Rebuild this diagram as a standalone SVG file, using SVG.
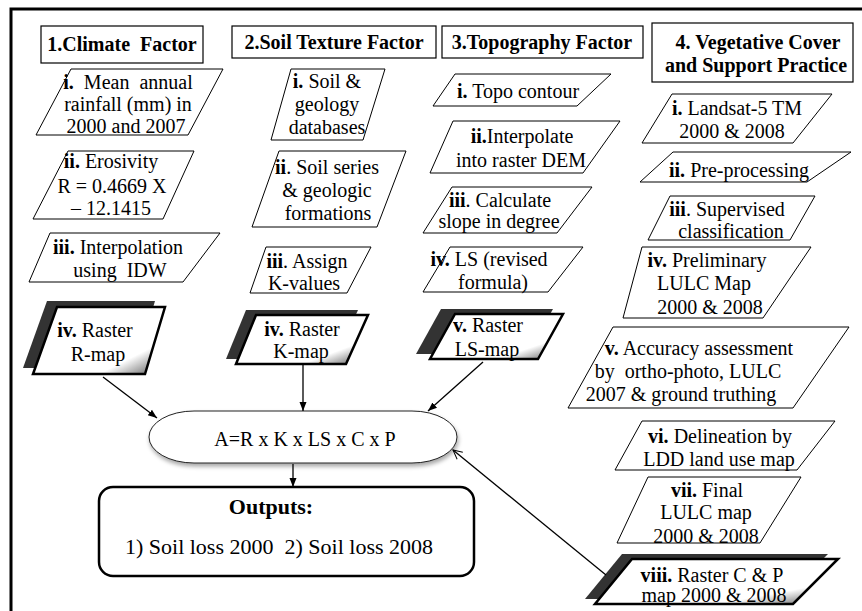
<svg xmlns="http://www.w3.org/2000/svg" width="862" height="611" viewBox="0 0 862 611">
<style>
text{font-family:"Liberation Serif","Times New Roman",serif;font-size:20px;fill:#000;text-anchor:middle;white-space:pre}
.h{font-weight:bold}
.b{font-weight:bold}
.big{font-size:22px}
.hdr{fill:#fff;stroke:#000;stroke-width:1.2}
.pg{fill:#fff;stroke:#000;stroke-width:1}
.sh{fill:#333;stroke:none}
.rb{fill:url(#bev);stroke:#000;stroke-width:2.5;stroke-linejoin:miter}
.cn{stroke:#000;stroke-width:1.3;fill:none}
.frame{stroke:#000;stroke-width:3;fill:none}
</style>
<defs>
<linearGradient id="bev" x1="0" y1="0" x2="1" y2="1">
<stop offset="0" stop-color="#fff"/>
<stop offset="0.75" stop-color="#fff"/>
<stop offset="1" stop-color="#4a4a4a"/>
</linearGradient>
<filter id="ds" x="-10%" y="-20%" width="120%" height="150%">
<feDropShadow dx="1" dy="3" stdDeviation="2" flood-color="#000" flood-opacity="0.35"/>
</filter>
<marker id="ah" markerUnits="userSpaceOnUse" markerWidth="10" markerHeight="10" refX="9" refY="5" orient="auto">
<path d="M0,1.5 L9,5 L0,8.5 z" fill="#000"/>
</marker>
<marker id="ao" markerUnits="userSpaceOnUse" markerWidth="12" markerHeight="12" refX="10" refY="6" orient="auto">
<path d="M1,1.5 L10,6 L1,10.5" fill="none" stroke="#000" stroke-width="1"/>
</marker>
</defs>
<rect width="862" height="611" fill="#fff"/>
<path class="frame" d="M11,611 V9 H862"/>

<g id="hdr1"><rect class="hdr" x="41" y="26" width="162" height="37"/><text class="h" x="122" y="51">1.Climate  Factor</text></g>
<g id="hdr2"><rect class="hdr" x="232" y="26" width="204" height="32"/><text class="h" x="334" y="49">2.Soil Texture Factor</text></g>
<g id="hdr3"><rect class="hdr" x="442" y="26" width="201" height="32"/><text class="h" x="542" y="49">3.Topography Factor</text></g>
<g id="hdr4"><rect class="hdr" x="652" y="23" width="201" height="59"/><text class="h" x="758" y="49">4. Vegetative Cover</text><text class="h" x="756" y="72">and Support Practice</text></g>

<g id="c1i"><polygon class="pg" points="71,69 223,69 188,135 36,135"/><text x="128" y="89"><tspan class="b">i.</tspan>  Mean  annual</text><text x="128" y="111">rainfall (mm) in</text><text x="126" y="133">2000 and 2007</text></g>
<g id="c1ii"><polygon class="pg" points="68,151 194,151 163,219 33,219"/><text x="111" y="168"><tspan class="b">ii.</tspan> Erosivity</text><text x="112" y="193">R = 0.4669 X</text><text x="111" y="215">– 12.1415</text></g>
<g id="c1iii"><polygon class="pg" points="50,233 220,233 183,282 29,282"/><text x="118" y="254"><tspan class="b">iii.</tspan> Interpolation</text><text x="120" y="277">using  IDW</text></g>
<g id="c1iv"><polygon class="sh" points="47,301 155,301 135,368 23,368"/><polygon class="rb" points="57,307 165,307 145,374 33,374"/><text x="95" y="337"><tspan class="b">iv.</tspan> Raster</text><text x="98" y="361">R-map</text></g>

<g id="c2i"><polygon class="pg" points="291,69 385,69 363,140 271,140"/><text x="327" y="88"><tspan class="b">i.</tspan> Soil &amp;</text><text x="327" y="111">geology</text><text x="327" y="134">databases</text></g>
<g id="c2ii"><polygon class="pg" points="279,151 406,151 377,227 252,227"/><text x="327" y="174"><tspan class="b">ii</tspan>. Soil series</text><text x="327" y="197">&amp; geologic</text><text x="328" y="220">formations</text></g>
<g id="c2iii"><polygon class="pg" points="266,247 371,247 347,293 250,293"/><text x="307" y="268"><tspan class="b">iii</tspan>. Assign</text><text x="304" y="290">K-values</text></g>
<g id="c2iv"><polygon class="sh" points="246,310 358,310 336,359 226,359"/><polygon class="rb" points="256,315 368,315 346,364 236,364"/><text x="302" y="336"><tspan class="b">iv.</tspan> Raster</text><text x="301" y="358">K-map</text></g>

<g id="c3i"><polygon class="pg" points="455,74 611,74 577,106 433,106"/><text x="518" y="98"><tspan class="b">i.</tspan> Topo contour</text></g>
<g id="c3ii"><polygon class="pg" points="453,121 620,121 583,173 430,173"/><text x="522" y="143"><tspan class="b">ii.</tspan>Interpolate</text><text x="521" y="167">into raster DEM</text></g>
<g id="c3iii"><polygon class="pg" points="452,187 592,187 557,233 423,233"/><text x="500" y="207"><tspan class="b">iii</tspan>. Calculate</text><text x="499" y="228">slope in degree</text></g>
<g id="c3iv"><polygon class="pg" points="450,247 583,247 548,292 423,292"/><text x="489" y="266"><tspan class="b">iv.</tspan> LS (revised</text><text x="493" y="289">formula)</text></g>
<g id="c3v"><polygon class="sh" points="441,309 553,309 528,354 416,354"/><polygon class="rb" points="455,314 563,314 538,359 430,359"/><text x="488" y="332"><tspan class="b">v.</tspan> Raster</text><text x="487" y="356">LS-map</text></g>

<g id="c4i"><polygon class="pg" points="672,94 832,94 793,143 642,143"/><text x="737" y="115"><tspan class="b">i.</tspan> Landsat-5 TM</text><text x="732" y="138">2000 &amp; 2008</text></g>
<g id="c4ii"><polygon class="pg" points="673,152 851,152 807,182 640,182"/><text x="739" y="177"><tspan class="b">ii.</tspan> Pre-processing</text></g>
<g id="c4iii"><polygon class="pg" points="670,196 815,196 790,240 648,240"/><text x="727" y="216"><tspan class="b">iii</tspan>. Supervised</text><text x="731" y="238">classification</text></g>
<g id="c4iv"><polygon class="pg" points="642,247 811,247 763,318 623,318"/><text x="707" y="267"><tspan class="b">iv.</tspan> Preliminary</text><text x="704" y="290">LULC Map</text><text x="710" y="314">2000 &amp; 2008</text></g>
<g id="c4v"><polygon class="pg" points="613,327 849,327 793,408 568,408"/><text x="699" y="355"><tspan class="b">v.</tspan> Accuracy assessment</text><text x="688" y="378">by  ortho-photo, LULC</text><text x="681" y="401">2007 &amp; ground truthing</text></g>
<g id="c4vi"><polygon class="pg" points="642,421 835,421 797,470 615,470"/><text x="720" y="443"><tspan class="b">vi.</tspan> Delineation by</text><text x="719" y="466">LDD land use map</text></g>
<g id="c4vii"><polygon class="pg" points="648,477 801,477 760,543 617,543"/><text x="707" y="497"><tspan class="b">vii.</tspan> Final</text><text x="706" y="519">LULC map</text><text x="706" y="543">2000 &amp; 2008</text></g>
<g id="c4viii"><polygon class="sh" points="622,554 828,554 783,599 585,599"/><polygon class="rb" points="632,559 838,559 793,604 595,604"/><text x="712" y="582"><tspan class="b">viii.</tspan> Raster C &amp; P</text><text x="714" y="602">map 2000 &amp; 2008</text></g>

<g id="usle"><rect x="149" y="411" width="308" height="52" rx="45" ry="26" fill="#fff" stroke="#222" stroke-width="1" filter="url(#ds)"/><text x="305" y="446">A=R x K x LS x C x P</text></g>
<g id="outputs"><rect x="99" y="487" width="375" height="89" rx="14" fill="#fff" stroke="#000" stroke-width="2.5"/><text class="b big" x="271" y="514">Outputs:</text><text class="big" x="279" y="554">1) Soil loss 2000  2) Soil loss 2008</text></g>

<g id="connectors">
<line class="cn" x1="103" y1="377" x2="157" y2="418" marker-end="url(#ah)"/>
<line class="cn" x1="303" y1="364" x2="303" y2="411" marker-end="url(#ah)"/>
<line class="cn" x1="483" y1="362" x2="428" y2="411" marker-end="url(#ah)"/>
<line class="cn" x1="293" y1="464" x2="293" y2="487" stroke-width="2.2" marker-end="url(#ah)"/>
<line class="cn" x1="606" y1="575" x2="453" y2="450" marker-end="url(#ao)"/>
</g>
</svg>
